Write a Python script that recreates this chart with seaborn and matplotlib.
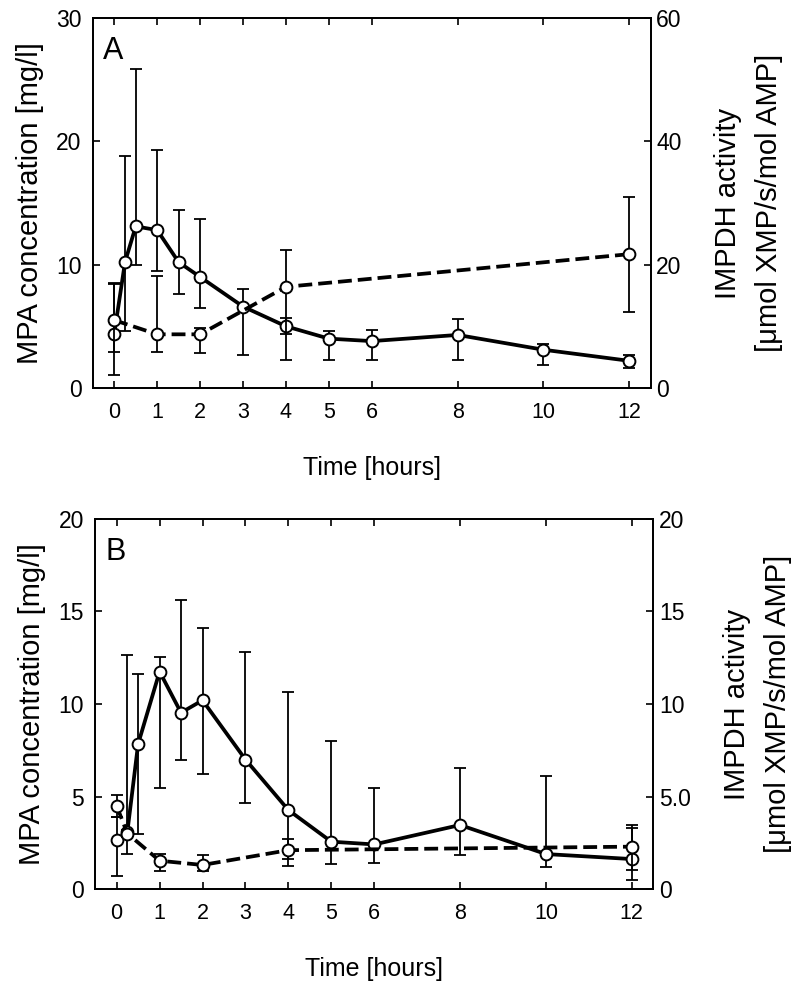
import numpy as np
import pandas as pd
import seaborn as sns
import matplotlib.pyplot as plt

# Panel A - MPA concentration (left axis, mg/l)
t_mpa_a = [0, 0.25, 0.5, 1, 1.5, 2, 3, 4, 5, 6, 8, 10, 12]
mpa_a = [4.4, 10.2, 13.1, 12.8, 10.2, 9.0, 6.6, 5.0, 4.0, 3.8, 4.3, 3.1, 2.2]
mpa_a_hi = [8.5, 18.8, 25.9, 19.3, 14.4, 13.7, 8.0, 5.7, 4.6, 4.7, 5.6, 3.6, 2.7]
mpa_a_lo = [1.05, 4.6, 10.0, 9.5, 7.6, 6.5, 2.7, 2.3, 2.3, 2.3, 2.3, 1.9, 1.6]

# Panel A - IMPDH activity (right axis)
t_imp_a = [0, 1, 2, 4, 12]
imp_a = [11.0, 8.7, 8.7, 16.4, 21.7]
imp_a_hi = [16.8, 18.2, 9.8, 22.4, 30.9]
imp_a_lo = [5.9, 5.8, 5.6, 8.8, 12.4]

# Panel B - MPA concentration
t_mpa_b = [0, 0.25, 0.5, 1, 1.5, 2, 3, 4, 5, 6, 8, 10, 12]
mpa_b = [2.65, 3.1, 7.84, 11.75, 9.53, 10.2, 7.0, 4.27, 2.56, 2.41, 3.46, 1.89, 1.62]
mpa_b_hi = [3.9, 12.65, 11.64, 12.56, 15.6, 14.1, 12.8, 10.67, 8.0, 5.44, 6.56, 6.1, 3.28]
mpa_b_lo = [0.72, 1.87, 3.0, 5.44, 6.97, 6.2, 4.67, 1.24, 1.33, 1.42, 1.84, 1.2, 1.03]

# Panel B - IMPDH activity
t_imp_b = [0, 0.25, 1, 2, 4, 12]
imp_b = [4.49, 3.0, 1.53, 1.3, 2.1, 2.29]
imp_b_hi = [5.1, 3.2, 1.89, 1.84, 2.69, 3.46]
imp_b_lo = [3.9, 2.8, 0.97, 0.97, 1.6, 0.49]

x_ticks = [0, 1, 2, 3, 4, 5, 6, 8, 10, 12]

sns.set_style('ticks')
plt.rcParams['font.family'] = ['Liberation Sans', 'DejaVu Sans']
plt.rcParams['axes.linewidth'] = 1.3
for key in ['text.color', 'axes.labelcolor', 'xtick.color', 'ytick.color', 'axes.edgecolor']:
    plt.rcParams[key] = 'black'


def draw_series(ax, t, y, lo, hi, ls):
    y = np.array(y)
    err = [y - np.array(lo), np.array(hi) - y]
    ax.errorbar(t, y, yerr=err, fmt='none', ecolor='black', elinewidth=1.3,
                capsize=4, capthick=1.3, zorder=2)
    df = pd.DataFrame({'t': t, 'v': y})
    sns.lineplot(data=df, x='t', y='v', ax=ax, color='black', lw=2.7, linestyle=ls,
                 marker='o', markersize=8.5, markerfacecolor='white',
                 markeredgecolor='black', markeredgewidth=1.4, errorbar=None, zorder=3)


def make_panel(rect, letter, t1, y1, lo1, hi1, ylim1, yt1,
               t2, y2, lo2, hi2, ylim2, yt2, yt2_labels):
    ax = fig.add_axes(rect)
    draw_series(ax, t1, y1, lo1, hi1, '-')
    ax.set_xlim(-0.5, 12.5)
    ax.set_ylim(*ylim1)
    ax.set_xticks(x_ticks)
    ax.set_yticks(yt1)
    ax.tick_params(axis='x', direction='in', top=True, length=5, width=1.2,
                   labelsize=15.5, pad=10)
    ax.tick_params(axis='y', direction='in', length=5, width=1.2,
                   labelsize=16.5, pad=8)
    ax.set_xlabel('Time [hours]', fontsize=18, labelpad=24)
    ax.set_ylabel('MPA concentration [mg/l]', fontsize=21, labelpad=9)
    ax.text(0.018, 0.95, letter, transform=ax.transAxes, fontsize=22,
            va='top', ha='left')

    ax2 = ax.twinx()
    draw_series(ax2, t2, y2, lo2, hi2, '--')
    ax2.set_ylim(*ylim2)
    ax2.set_yticks(yt2)
    ax2.set_yticklabels(yt2_labels)
    ax2.tick_params(axis='y', direction='in', length=5, width=1.2,
                    labelsize=16.5, pad=4)
    ax2.set_ylabel('IMPDH activity\n[\u03bcmol XMP/s/mol AMP]', fontsize=21,
                   labelpad=23, linespacing=1.6)
    return ax, ax2


fig = plt.figure(figsize=(8, 9.91), dpi=100)

make_panel([0.116, 0.6085, 0.6975, 0.3734], 'A',
           t_mpa_a, mpa_a, mpa_a_lo, mpa_a_hi, (0, 30), [0, 10, 20, 30],
           t_imp_a, imp_a, imp_a_lo, imp_a_hi, (0, 60), [0, 20, 40, 60],
           ['0', '20', '40', '60'])

make_panel([0.119, 0.1029, 0.6975, 0.3734], 'B',
           t_mpa_b, mpa_b, mpa_b_lo, mpa_b_hi, (0, 20), [0, 5, 10, 15, 20],
           t_imp_b, imp_b, imp_b_lo, imp_b_hi, (0, 20), [0, 5, 10, 15, 20],
           ['0', '5.0', '10', '15', '20'])

fig.savefig('out.png', dpi=100)
